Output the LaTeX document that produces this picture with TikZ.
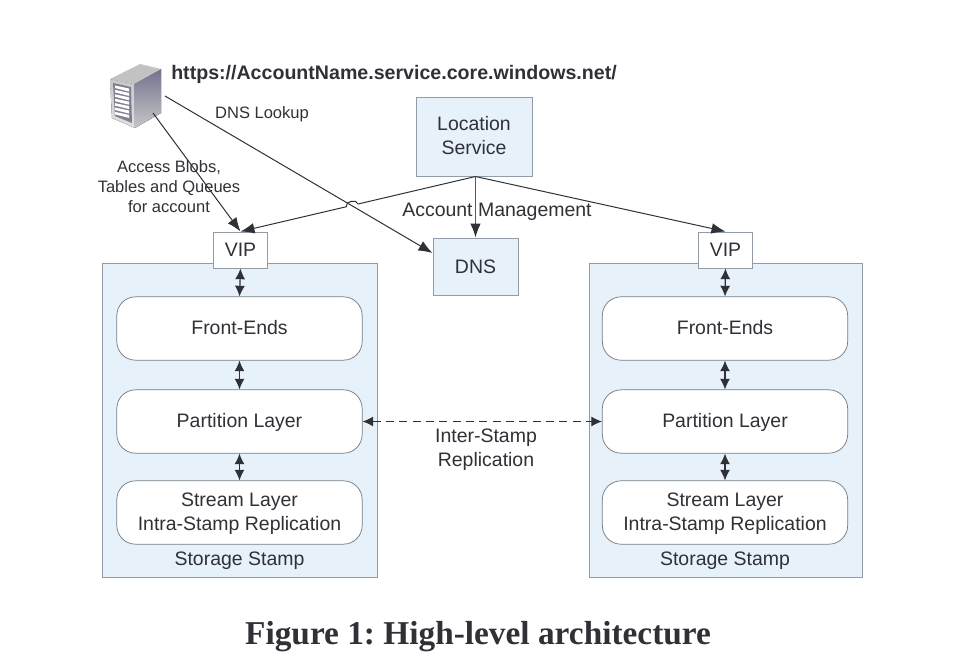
\documentclass[tikz,border=0pt]{standalone}
\usepackage{fontspec}
\setmainfont{Liberation Sans}
\newfontfamily\captionfont{Liberation Serif}
\usetikzlibrary{arrows.meta,calc,positioning}
\definecolor{boxfill}{HTML}{E7F1F9}
\definecolor{boxline}{HTML}{929CA6}
\definecolor{inkgrey}{HTML}{2F3136}
\tikzset{%
	stamp/.style  = {draw=boxline, fill=boxfill, line width=0.75pt, rectangle, inner sep=0pt},
	layer/.style  = {draw=boxline!80!black, fill=white, line width=0.55pt, rectangle, rounded corners=14pt, minimum width=184pt, minimum height=47.5pt, inner sep=0pt, align=center, text=inkgrey, font=\fontsize{14.6}{18}\selectfont},
	oneline/.style = {layer, align=none, text height=12.6pt, text depth=3pt},
	vipbox/.style = {draw=boxline, fill=white, line width=0.75pt, rectangle, minimum width=41pt, minimum height=27pt, inner sep=0pt, text=inkgrey, font=\fontsize{14.6}{18}\selectfont},
	label/.style  = {align=center, text=inkgrey, inner sep=0pt, font=\fontsize{14.6}{18}\selectfont},
	small/.style  = {align=center, text=inkgrey, inner sep=0pt, font=\fontsize{12.4}{15}\selectfont},
	arrow/.style  = {draw=inkgrey, line width=0.75pt, -{Latex[length=10.5pt,width=8pt]}},
	twoway/.style = {draw=inkgrey, line width=0.9pt, {Latex[length=8pt,width=7.5pt]}-{Latex[length=8pt,width=7.5pt]}},
}
\begin{document}
\begin{tikzpicture}[x=0.75pt,y=-0.75pt]
	\useasboundingbox (0,0) rectangle (960,662);
	% stamps
	\node[stamp,minimum width=206.25pt,minimum height=235.5pt] (stampL) at (239.5,420) {};
	\node[stamp,minimum width=204.75pt,minimum height=235.5pt] (stampR) at (725.5,420) {};
	% top boxes
	\node[stamp,minimum width=87pt,minimum height=59.25pt,align=center,text=inkgrey,font=\fontsize{14.6}{18}\selectfont] (location) at (474,136.5) {Location\\Service\rule[-1.5pt]{0pt}{1pt}};
	\node[stamp,minimum width=63.75pt,minimum height=42.75pt,text=inkgrey,font=\fontsize{14.6}{18}\selectfont] (dns) at (475.5,266.5) {DNS};
	\node[vipbox] (vipL) at (240.5,250) {VIP};
	\node[vipbox] (vipR) at (725.5,250) {VIP};
	% layers, left
	\node[oneline] (frontL) at (239.5,328.5) {Front-Ends};
	\node[oneline] (partL) at (239.5,421.5) {Partition Layer};
	\node[layer] (streamL) at (239.5,512.5) {\rule{0pt}{12pt}Stream Layer\\Intra-Stamp Replication};
	\node[label] (nameL) at (239.5,561) {Storage Stamp};
	% layers, right
	\node[oneline] (frontR) at (725,328.5) {Front-Ends};
	\node[oneline] (partR) at (725,421.5) {Partition Layer};
	\node[layer] (streamR) at (725,512.5) {\rule{0pt}{12pt}Stream Layer\\Intra-Stamp Replication};
	\node[label] (nameR) at (725,561) {Storage Stamp};
	% server
	\fill[top color=black!22,bottom color=black!12] (110,79) -- (134,84) -- (135,128) -- (112,118) -- cycle;
	\fill[top color=blue!20!black!55,middle color=blue!10!black!32,bottom color=black!22] (134,84) -- (161,69) -- (161,113) -- (135,128) -- cycle;
	\fill[black!24] (110,79) -- (140,64) -- (161,69) -- (134,84) -- cycle;
	\fill[blue!15!black!50] (113,83) -- (131,87) -- (132,123) -- (115,116) -- cycle;
	\foreach \y in {0,1,...,6}
		\fill[white] (115,{85.5+\y*4.4}) -- (129,{88.5+\y*4.4}) -- (129,{91.5+\y*4.4}) -- (115,{88+\y*4.4}) -- cycle;
	\coordinate (serverA) at (165,96);
	\coordinate (serverB) at (153,113);
	\coordinate (hub) at (location.south -| dns.north);
	% connectors
	\draw[arrow] (serverA) -- (dns.west |- 0,253);
	\draw[arrow] (serverB) -- (vipL.north);
	\draw[arrow] (hub) -- ($(hub)!0.5!(vipL.north)$) to[bend right=90,looseness=1.2] ($(hub)!0.55!(vipL.north)$) -- (vipL.north);
	\draw[draw=black!65,line width=1.1pt,-{Latex[length=10.5pt,width=8pt,color=inkgrey]}] (hub) -- (dns.north);
	\draw[arrow] (hub) -- (vipR.north);
	\draw[twoway] (vipL.south) -- (frontL.north);
	\draw[twoway] (frontL.south) -- (partL.north);
	\draw[twoway] (partL.south) -- (streamL.north);
	\draw[twoway] (vipR.south) -- (frontR.north);
	\draw[twoway] (frontR.south) -- (partR.north);
	\draw[twoway] (partR.south) -- (streamR.north);
	\draw[twoway,line width=0.75pt,dash pattern=on 6pt off 4pt] (partL.east) -- (partR.west);
	% texts
	\node[anchor=west,inner sep=0pt,text=inkgrey,font=\bfseries\fontsize{14.7}{16}\selectfont] (url) at (171,74) {https://AccountName.service.core.windows.net/};
	\node[small] (lookup) at (262,114) {DNS Lookup};
	\node[small] (access) at (169,187) {Access Blobs,\\Tables and Queues\\for account};
	\node[label] (mgmt) at (497,212) {Account Management};
	\node[label] (inter) at (486,450) {Inter-Stamp\\Replication};
	\node[inner sep=0pt,text=inkgrey,font=\captionfont\bfseries\fontsize{25}{28}\selectfont\frenchspacing] (caption) at (478,637) {Figure 1: High-level architecture};
\end{tikzpicture}
\end{document}
